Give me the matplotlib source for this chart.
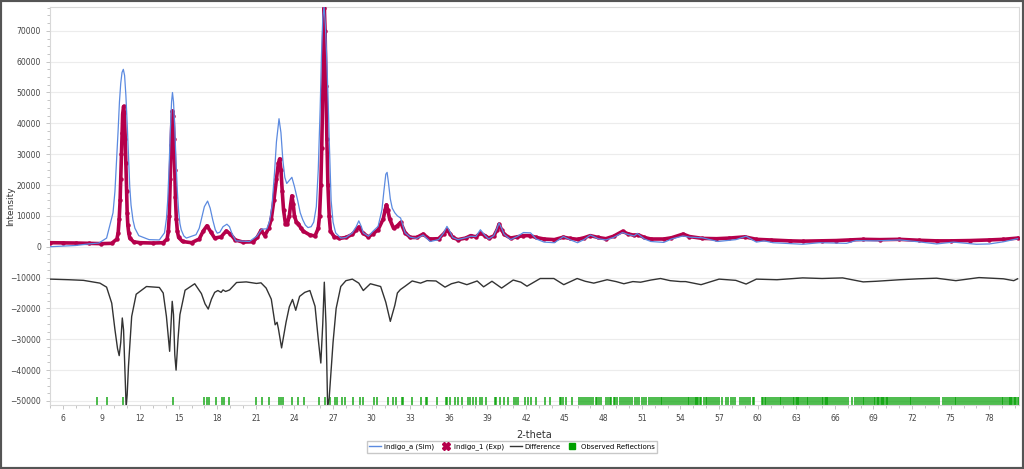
import matplotlib.pyplot as plt
from matplotlib.lines import Line2D
from matplotlib.patches import Rectangle
from matplotlib.ticker import MultipleLocator

# simulated pattern (indigo_a)
sim_x = [5.0, 6.0, 7.0, 8.0, 8.8, 9.4, 9.9, 10.05, 10.15, 10.3, 10.4, 10.5, 10.6, 10.7, 10.8, 10.9,
         11.0, 11.1, 11.2, 11.3, 11.45, 11.6, 11.9, 12.7, 13.5, 13.9, 14.05, 14.15, 14.25, 14.35,
         14.45, 14.52, 14.6, 14.7, 14.8, 14.9, 15.0, 15.1, 15.2, 15.4, 15.6, 16.35, 16.6, 16.8, 17.0,
         17.25, 17.45, 17.65, 17.85, 18.0, 18.2, 18.45, 18.75, 18.95, 19.15, 19.45, 20.5, 21.1, 21.45,
         21.85, 22.05, 22.25, 22.45, 22.6, 22.8, 22.95, 23.1, 23.25, 23.4, 23.6, 23.8, 24.0, 24.25,
         24.45, 24.65, 24.85, 25.05, 25.3, 25.5, 25.7, 25.85, 26.0, 26.1, 26.2, 26.3, 26.4, 26.5,
         26.6, 26.7, 26.85, 27.0, 27.2, 27.6, 28.0, 28.5, 28.8, 29.0, 29.2, 29.35, 29.75, 30.1, 30.5,
         30.8, 30.95, 31.1, 31.2, 31.3, 31.45, 31.6, 31.8, 32.0, 32.25, 32.45, 32.6, 33.0, 33.5, 34.0,
         34.55, 35.2, 35.6, 35.85, 36.1, 36.3, 36.7, 37.3, 37.7, 38.1, 38.45, 38.8, 39.1, 39.5, 39.75,
         39.9, 40.1, 40.3, 40.8, 41.3, 41.8, 42.35, 42.8, 43.4, 44.2, 44.9, 45.4, 46.0, 46.5, 47.0,
         47.6, 48.2, 48.8, 49.5, 49.9, 50.4, 50.65, 51.2, 51.7, 52.7, 53.3, 54.2, 54.7, 55.7, 56.9,
         58.3, 59.1, 59.9, 60.5, 61.2, 62.5, 63.5, 64.8, 66.9, 67.65, 69.2, 71.05, 72.5, 73.9, 75.2,
         77.0, 78.0, 79.1, 80.2]
sim_y = [0, 200, 400, 900, 1200, 2800, 11000, 18000, 26000, 38000, 47000, 53000, 56500, 57500, 55500,
         49000, 40000, 30000, 19500, 13500, 8700, 6000, 3600, 2300, 2200, 4500, 9000, 15000, 25000,
         37000, 47000, 50000, 47000, 38500, 27000, 18000, 11500, 7500, 5500, 3500, 2800, 3900, 6000,
         9500, 13000, 14800, 12500, 8700, 5500, 4400, 4700, 6500, 7300, 6500, 4200, 1900, 1700, 3500,
         5700, 5800, 8000, 13000, 24000, 34000, 41500, 37000, 28000, 22500, 20500, 21500, 22500,
         19500, 15000, 11000, 8700, 7000, 6200, 6500, 8000, 13000, 25000, 45000, 62000, 74000, 78000,
         72000, 62000, 50000, 35000, 15000, 8000, 4500, 2800, 3000, 4500, 6500, 8400, 6500, 4500, 3400,
         5000, 6600, 12000, 18000, 23500, 24100, 21000, 15500, 12500, 11000, 10000, 9300, 6500, 4500,
         3100, 2700, 3800, 1700, 2300, 4500, 6600, 4800, 3000, 2300, 2900, 3400, 3300, 5500, 3700,
         2500, 3600, 6000, 7700, 6000, 4000, 2300, 3300, 4600, 4500, 2500, 1500, 1300, 3300, 2300,
         1300, 2300, 3800, 2600, 2200, 3000, 4600, 4000, 3500, 4300, 2500, 1700, 1400, 2500, 3500,
         3100, 2900, 1700, 2300, 3400, 1500, 1900, 1300, 1000, 800, 1300, 1100, 2000, 1900, 2200,
         1600, 900, 1500, 800, 900, 1600, 2600]

# experimental pattern (indigo_1)
exp_x = [5.0, 6.0, 7.0, 8.0, 9.0, 9.8, 10.2, 10.3, 10.38, 10.45, 10.5, 10.55, 10.6, 10.65, 10.72,
         10.78, 10.85, 10.9, 10.95, 11.0, 11.05, 11.12, 11.2, 11.5, 12.0, 13.0, 13.8, 14.1, 14.2,
         14.27, 14.35, 14.42, 14.47, 14.52, 14.57, 14.63, 14.7, 14.75, 14.82, 14.9, 15.0, 15.3, 16.0,
         16.6, 16.9, 17.2, 17.5, 17.8, 18.3, 18.7, 19.0, 19.4, 20.0, 20.8, 21.1, 21.4, 21.7, 22.0,
         22.2, 22.4, 22.6, 22.75, 22.85, 22.95, 23.05, 23.15, 23.3, 23.45, 23.6, 23.7, 23.8, 23.9,
         24.0, 24.15, 24.3, 24.5, 24.7, 25.2, 25.6, 25.85, 25.95, 26.05, 26.12, 26.2, 26.27, 26.32,
         26.38, 26.45, 26.52, 26.6, 26.7, 26.8, 27.1, 27.5, 28.0, 28.5, 28.8, 29.0, 29.3, 29.75,
         30.1, 30.5, 30.9, 31.05, 31.15, 31.25, 31.4, 31.7, 32.0, 32.25, 32.6, 33.0, 33.5, 34.0,
         34.5, 35.2, 35.6, 35.85, 36.1, 36.3, 36.7, 37.3, 37.7, 38.1, 38.45, 38.8, 39.1, 39.5, 39.75,
         39.9, 40.1, 40.3, 40.8, 41.3, 41.8, 42.3, 42.8, 43.4, 44.2, 44.9, 45.4, 46.0, 46.5, 47.0,
         47.6, 48.2, 48.8, 49.5, 49.9, 50.4, 50.7, 51.2, 51.7, 52.7, 53.3, 54.2, 54.7, 55.7, 56.8,
         57.8, 59.0, 59.9, 61.0, 62.5, 63.5, 65.0, 66.1, 67.2, 68.2, 69.5, 71.0, 72.5, 73.9, 75.0,
         76.5, 78.0, 79.1, 80.2]
exp_y = [1300, 1250, 1200, 1100, 1000, 1100, 2500, 4500, 9000, 15000, 22000, 30000, 37000, 43000, 45500,
         43500, 35000, 27000, 18000, 11000, 7000, 4500, 2800, 1600, 1300, 1200, 1300, 2500, 5000,
         10000, 22000, 33000, 40000, 44000, 42500, 35000, 25000, 16000, 9000, 5000, 3000, 1700, 1300,
         2500, 5000, 6800, 4800, 2800, 3200, 5100, 4200, 2200, 1500, 1600, 3000, 5300, 3600, 6000,
         9000, 15000, 22000, 27000, 28500, 25000, 18000, 12000, 7500, 7500, 10000, 13500, 16500, 14000,
         10000, 8000, 7500, 6000, 5000, 3800, 3500, 6000, 10000, 20000, 32000, 50000, 68000, 77500,
         70000, 52000, 35000, 20000, 10000, 5000, 3200, 2700, 3000, 4000, 5500, 6400, 4500, 3200,
         4200, 5500, 9000, 12000, 13600, 12000, 9000, 6000, 6800, 7900, 4500, 3000, 3000, 4100,
         2500, 2600, 4200, 5500, 4200, 3000, 2300, 2800, 3600, 3200, 4400, 3600, 2800, 3500, 5500,
         7300, 5500, 4000, 2800, 3200, 3600, 3600, 3000, 2500, 2300, 3100, 2700, 2400, 2900, 3600,
         3000, 2600, 3400, 5000, 4200, 3700, 3900, 3000, 2500, 2500, 2900, 4100, 3300, 2700, 2600,
         2800, 3200, 2400, 2200, 1900, 1800, 1900, 2000, 2200, 2400, 2300, 2400, 2100, 1900, 1900,
         2000, 2200, 2400, 2800]

# difference curve (offset)
diff_x = [5.0, 6.5, 7.6, 8.88, 9.4, 9.8, 10.05, 10.25, 10.38, 10.5, 10.62, 10.72, 10.82, 10.92, 11.0,
          11.1, 11.35, 11.7, 12.5, 13.5, 13.8, 14.05, 14.3, 14.42, 14.5, 14.6, 14.7, 14.8, 14.95,
          15.1, 15.5, 16.25, 16.77, 17.05, 17.3, 17.55, 17.8, 18.05, 18.3, 18.45, 18.65, 18.96,
          19.5, 20.25, 21.05, 21.4, 21.8, 22.2, 22.5, 22.65, 22.75, 23.0, 23.35, 23.6, 23.85, 24.1,
          24.4, 24.8, 25.2, 25.6, 25.85, 26.05, 26.2, 26.32, 26.45, 26.58, 26.7, 26.85, 27.0, 27.24,
          27.6, 28.0, 28.5, 29.0, 29.35, 29.9, 30.7, 31.1, 31.45, 31.8, 32.0, 32.23, 32.6, 33.15,
          33.8, 34.3, 35.0, 35.7, 36.2, 36.75, 37.4, 38.2, 38.7, 39.35, 40.1, 41.0, 41.6, 42.07,
          43.1, 44.16, 44.93, 45.97, 46.6, 47.26, 48.3, 49.0, 49.6, 50.3, 50.9, 51.7, 52.45, 53.2,
          54.0, 54.4, 55.6, 57.0, 58.3, 59.1, 59.9, 61.5, 63.5, 65.0, 66.6, 68.2, 69.2, 71.05,
          72.5, 73.9, 75.4, 77.2, 79.1, 79.9, 80.2]
diff_y = [-10500, -10700, -10900, -11800, -13100, -18300, -26900, -33000, -35300, -31000, -23100, -27000,
          -40000, -52000, -48000, -38800, -22600, -15400, -12900, -13200, -15000, -22600, -33900,
          -24000, -17700, -22000, -35000, -40000, -30000, -22000, -14100, -12000, -15200, -18500,
          -20200, -17000, -14800, -14200, -14800, -14000, -14500, -14000, -11600, -11400, -11900,
          -11700, -13400, -17000, -25300, -24500, -26500, -32800, -24400, -19500, -17100, -20600,
          -16100, -14800, -14200, -19300, -30000, -37700, -25000, -11500, -25000, -52000, -49000,
          -40000, -31000, -20000, -12900, -11000, -10500, -11800, -14200, -12000, -12900, -18000,
          -24200, -19000, -15000, -13900, -12800, -11100, -11800, -11000, -11100, -13100, -12000,
          -11400, -12300, -11100, -13000, -11200, -13400, -10800, -11500, -12800, -10300, -10300,
          -12300, -10300, -11200, -11800, -10700, -11300, -12000, -11300, -11500, -10800, -10300,
          -11000, -11300, -11300, -12300, -10500, -10900, -12100, -10500, -10700, -10100, -10300,
          -10100, -11400, -11200, -10700, -10400, -10200, -11000, -10000, -10400, -11000, -10400]

# observed reflection positions
refl_x = [8.64, 9.46, 10.71, 14.59, 16.97, 17.18, 17.38, 17.88, 18.35, 18.55, 18.94, 21.01, 21.48,
          22.0, 22.82, 22.95, 23.08, 23.78, 24.29, 24.76, 25.92, 26.37, 26.75, 27.14, 27.27, 27.71,
          27.92, 28.56, 29.08, 29.34, 30.17, 30.43, 31.28, 31.67, 31.93, 32.32, 32.45, 33.17, 33.87,
          34.21, 34.34, 35.04, 35.76, 35.89, 36.07, 36.46, 36.72, 37.06, 37.49, 37.68, 37.88, 38.14,
          38.4, 38.61, 38.92, 39.57, 39.7, 39.95, 40.26, 40.6, 41.04, 41.2, 41.38, 41.9, 42.15, 42.41,
          42.8, 43.45, 43.83, 44.61, 44.72, 44.87, 45.13, 45.6, 46.15, 46.3, 46.42, 46.6, 46.75, 46.9,
          47.05, 47.22, 47.4, 47.55, 47.7, 47.85, 48.2, 48.35, 48.5, 48.62, 48.8, 48.95, 49.1, 49.3,
          49.45, 49.6, 49.8, 49.95, 50.1, 50.25, 50.45, 50.6, 50.8, 51.0, 51.2, 51.35, 51.55, 51.7,
          51.85, 52.0, 52.15, 52.3, 52.45, 52.6, 52.75, 52.9, 53.05, 53.2, 53.35, 53.5, 53.65, 53.8,
          53.95, 54.1, 54.25, 54.4, 54.55, 54.7, 54.85, 55.0, 55.1, 55.2, 55.3, 55.4, 55.5, 55.6,
          55.8, 55.95, 56.1, 56.25, 56.4, 56.55, 56.7, 56.85, 57.0, 57.2, 57.55, 57.7, 57.9, 58.05,
          58.2, 58.6, 58.8, 58.95, 59.1, 59.25, 59.4, 59.6, 59.75, 60.35, 60.45, 60.55, 60.65, 60.8,
          60.95, 61.1, 61.25, 61.4, 61.55, 61.7, 61.85, 62.0, 62.15, 62.3, 62.45, 62.6, 62.75, 62.85,
          62.95, 63.05, 63.15, 63.25, 63.35, 63.5, 63.65, 63.8, 63.95, 64.1, 64.25, 64.4, 64.55,
          64.7, 64.85, 65.0, 65.1, 65.2, 65.3, 65.4, 65.5, 65.65, 65.8, 65.95, 66.1, 66.25, 66.4,
          66.55, 66.7, 66.85, 67.0, 67.3, 67.55, 67.7, 67.85, 68.0, 68.15, 68.3, 68.45, 68.6, 68.75,
          68.9, 69.05, 69.15, 69.25, 69.35, 69.45, 69.55, 69.65, 69.75, 69.85, 69.95, 70.05, 70.15,
          70.3, 70.45, 70.6, 70.75, 70.9, 71.05, 71.2, 71.35, 71.5, 71.65, 71.8, 71.95, 72.1, 72.25,
          72.4, 72.55, 72.7, 72.85, 73.0, 73.15, 73.3, 73.45, 73.6, 73.75, 73.9, 74.1, 74.4, 74.55,
          74.7, 74.85, 75.0, 75.15, 75.3, 75.45, 75.6, 75.75, 75.9, 76.05, 76.2, 76.35, 76.5, 76.65,
          76.8, 76.95, 77.1, 77.3, 77.45, 77.6, 77.75, 77.9, 78.05, 78.2, 78.35, 78.5, 78.65, 78.8,
          78.95, 79.1, 79.25, 79.4, 79.5, 79.6, 79.7, 79.8, 79.9, 80.0, 80.1, 80.2, 80.3]
refl_level = -50000

sim_color = '#5b8ae0'
exp_color = '#b5004b'
diff_color = '#333333'
refl_color = '#00a000'

fig = plt.figure(figsize=(10.24, 4.69), dpi=100)
ax = fig.add_axes([0.0488, 0.1365, 0.9462, 0.8485])

ax.vlines(refl_x, refl_level - 1300, refl_level + 1200, color=refl_color, lw=1.4, alpha=0.7, zorder=2)
ax.plot(diff_x, diff_y, color=diff_color, lw=1.0, zorder=3)
ax.plot(exp_x, exp_y, color=exp_color, lw=2.6, marker='o', ms=2.2, zorder=4)
ax.plot(sim_x, sim_y, color=sim_color, lw=0.9, zorder=5)

ax.set_xlim(5.0, 80.3)
ax.set_ylim(-51300, 77700)
ax.xaxis.set_major_locator(MultipleLocator(3))
ax.xaxis.set_minor_locator(MultipleLocator(1))
ax.yaxis.set_major_locator(MultipleLocator(10000))
ax.yaxis.set_minor_locator(MultipleLocator(2500))
ax.grid(axis='y', which='major', color='#ececec', lw=0.8)
ax.set_axisbelow(True)
for s in ax.spines.values():
    s.set_color('#d8d8d8')
ax.tick_params(which='both', colors='#bbbbbb', labelcolor='#444444', labelsize=5.5, length=3, width=0.6)
ax.tick_params(which='minor', length=2)

ax.set_xlabel('2-theta', fontsize=7, color='#333333', labelpad=5)
ax.set_ylabel('Intensity', fontsize=6.5, color='#333333')
ax.yaxis.set_label_coords(-0.036, 0.5)

handles = [
    Line2D([], [], color=sim_color, lw=1.0),
    Line2D([], [], color=exp_color, lw=0, marker='X', ms=6),
    Line2D([], [], color=diff_color, lw=1.0),
    Line2D([], [], color=refl_color, lw=0, marker='s', ms=4.5),
]
labels = ['indigo_a (Sim)', 'indigo_1 (Exp)', 'Difference', 'Observed Reflections']
fig.legend(handles, labels, loc='center', bbox_to_anchor=(0.5, 0.047), ncol=4, fontsize=5,
           frameon=True, fancybox=False, edgecolor='#bbbbbb', handlelength=1.7, handletextpad=0.4,
           columnspacing=0.8, borderpad=0.4)

# window frame
fig.patches.append(Rectangle((0, 0), 1, 1, transform=fig.transFigure, fill=False,
                             edgecolor='#555555', lw=3))

fig.savefig('out.png', dpi=100)
